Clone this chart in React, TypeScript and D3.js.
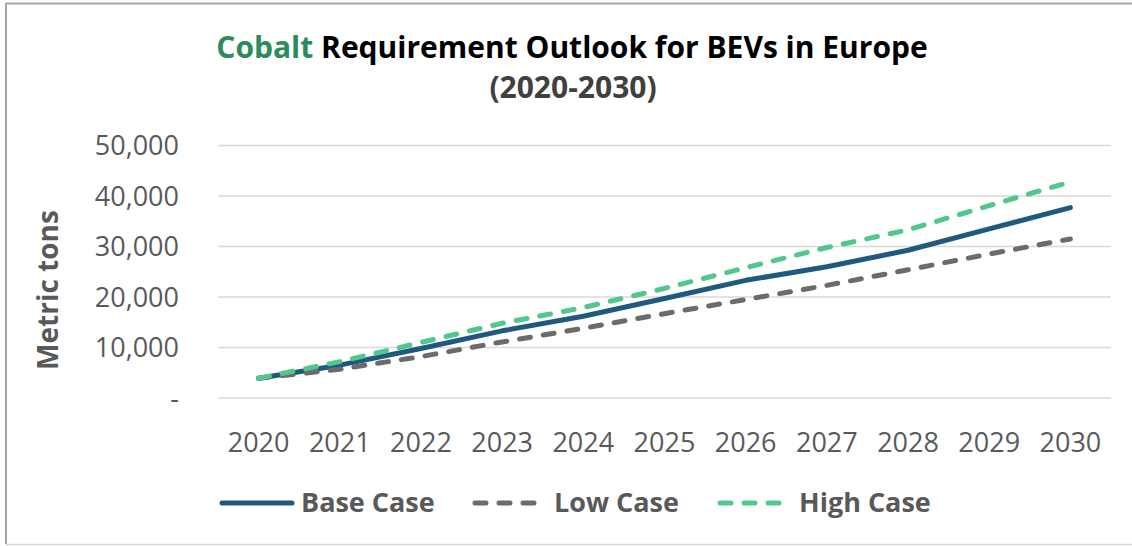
import React from "react";
import * as d3 from "d3";

const years = ["2020", "2021", "2022", "2023", "2024", "2025", "2026", "2027", "2028", "2029", "2030"];
const baseCase = [3900, 6500, 9800, 13300, 16200, 19700, 23300, 26000, 29250, 33500, 37700];
const lowCase = [3900, 5700, 8200, 11100, 13800, 16700, 19500, 22300, 25400, 28500, 31500];
const highCase = [3900, 7200, 11000, 14800, 17900, 21700, 25800, 29800, 33300, 38100, 42800];
const yTicks = [0, 10000, 20000, 30000, 40000, 50000];
const seriesNames = ["Base Case", "Low Case", "High Case"];

const W = 1132;
const H = 546;
const left = 218;
const right = 1111;
const top = 145.5;
const bottom = 398;
const FONT = "'Open Sans', 'Noto Sans', sans-serif";

export default function App() {
  const x = d3.scaleBand<string>().domain(years).range([left, right]);
  const y = d3.scaleLinear().domain([0, 50000]).range([bottom, top]);
  const cx = (d: string) => (x(d) as number) + x.bandwidth() / 2;
  const line = d3
    .line<number>()
    .x((_, i) => cx(years[i]))
    .y((v) => y(v));
  const fmt = (v: number) => (v === 0 ? "-" : d3.format(",")(v));

  const series = [
    { name: seriesNames[0], data: baseCase, color: "#1F5A7E", dash: undefined as string | undefined },
    { name: seriesNames[1], data: lowCase, color: "#6B6B6B", dash: "11 13" },
    { name: seriesNames[2], data: highCase, color: "#52C78D", dash: "11 13" },
  ];
  const legendX = [222, 475, 720];

  return (
    <svg
      width={W}
      height={H}
      style={{ position: "absolute", left: 0, top: 0, background: "#fff" }}
      fontFamily={FONT}
    >
      <rect x={0} y={0} width={W} height={H} fill="#fff" />
      {/* frame */}
      <line x1={6} y1={3.5} x2={W} y2={3.5} stroke="#A6A6A6" strokeWidth={2} />
      <line x1={6} y1={3} x2={6} y2={544} stroke="#A6A6A6" strokeWidth={2} />
      <line x1={6} y1={544.5} x2={W} y2={544.5} stroke="#D9D9D9" strokeWidth={1.5} />

      {/* title */}
      <text x={572} y={58} textAnchor="middle" fontSize={30} fontWeight={700} fill="#000">
        <tspan fill="#2C8A5C">Cobalt</tspan> Requirement Outlook for BEVs in Europe
      </text>
      <text x={573} y={98} textAnchor="middle" fontSize={30} fontWeight={700} fill="#404040">
        (2020-2030)
      </text>

      {/* gridlines */}
      {yTicks.map((t) => (
        <line key={t} x1={left} x2={right} y1={y(t)} y2={y(t)} stroke="#D9D9D9" strokeWidth={1.5} />
      ))}
      {/* y labels */}
      {yTicks.map((t) => (
        <text key={t} x={179} y={y(t) + 9.5} textAnchor="end" fontSize={27} fill="#595959">
          {fmt(t)}
        </text>
      ))}
      {/* x labels */}
      {years.map((yr) => (
        <text key={yr} x={cx(yr)} y={452} textAnchor="middle" fontSize={27} fill="#595959">
          {yr}
        </text>
      ))}
      {/* y title */}
      <text
        transform={`translate(58,290) rotate(-90)`}
        textAnchor="middle"
        fontSize={28}
        fontWeight={700}
        fill="#595959"
      >
        Metric tons
      </text>

      {/* lines */}
      {series.map((s) => (
        <path
          key={s.name}
          d={line(s.data) as string}
          fill="none"
          stroke={s.color}
          strokeWidth={5}
          strokeDasharray={s.dash}
          strokeLinecap="round"
          strokeLinejoin="round"
        />
      ))}

      {/* legend */}
      {series.map((s, i) => (
        <g key={s.name}>
          <line
            x1={legendX[i]}
            x2={legendX[i] + 70}
            y1={503}
            y2={503}
            stroke={s.color}
            strokeWidth={5}
            strokeDasharray={s.dash}
            strokeLinecap="round"
          />
          <text x={legendX[i] + 79} y={512} fontSize={27} fontWeight={700} fill="#595959">
            {s.name}
          </text>
        </g>
      ))}
    </svg>
  );
}
